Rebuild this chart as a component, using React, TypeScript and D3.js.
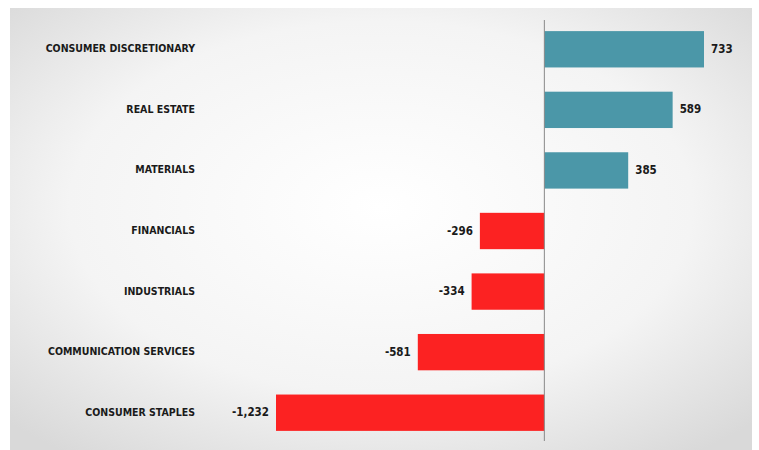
import React from "react";
import * as d3 from "d3";

const categories = ["CONSUMER DISCRETIONARY", "REAL ESTATE", "MATERIALS", "FINANCIALS", "INDUSTRIALS", "COMMUNICATION SERVICES", "CONSUMER STAPLES"];
const values = [733, 589, 385, -296, -334, -581, -1232];

const W = 759;
const H = 450;

export default function App() {
  const x = d3.scaleLinear().domain([-1232, 733]).range([276, 704]);
  const y = d3.scaleBand().domain(categories).range([19, 443]).paddingInner(0.4).paddingOuter(0.2);
  const fmt = (v: number) => d3.format(",")(v).replace("\u2212", "-");
  const font = "'Liberation Sans Narrow', 'DejaVu Sans Condensed', Arial, sans-serif";

  return (
    <svg width={W} height={H} style={{ position: "absolute", left: 0, top: 0 }}>
      <defs>
        <radialGradient id="bg" cx="50%" cy="45%" r="70%">
          <stop offset="0%" stopColor="#ffffff" />
          <stop offset="60%" stopColor="#f4f4f4" />
          <stop offset="100%" stopColor="#d9d9d9" />
        </radialGradient>
      </defs>
      <rect x={10} y={8} width={742} height={442} fill="url(#bg)" />
      {categories.map((c, i) => {
        const v = values[i];
        const yy = y(c)!;
        const bw = y.bandwidth();
        const x0 = x(Math.min(0, v));
        const x1 = x(Math.max(0, v));
        return (
          <g key={c} fontFamily={font} fontWeight="bold" fill="#1a1a1a">
            <rect x={x0} y={yy} width={x1 - x0} height={bw} fill={v >= 0 ? "#4b97a8" : "#fc2222"} />
            <text x={195} y={yy + bw / 2} fontSize={10.5} textAnchor="end" dominantBaseline="middle">{c}</text>
            <text
              x={v >= 0 ? x1 + 7 : x0 - 7}
              y={yy + bw / 2}
              fontSize={11.5}
              textAnchor={v >= 0 ? "start" : "end"}
              dominantBaseline="middle"
            >
              {fmt(v)}
            </text>
          </g>
        );
      })}
      <line x1={x(0)} x2={x(0)} y1={20} y2={441} stroke="#888" strokeWidth={1} />
    </svg>
  );
}
